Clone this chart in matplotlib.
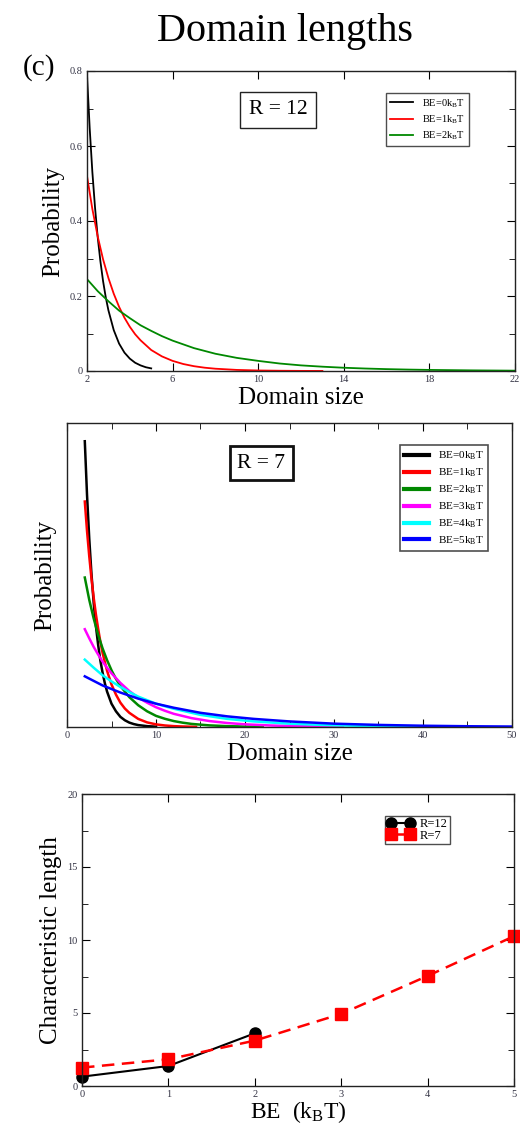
import matplotlib
matplotlib.use("Agg")
import matplotlib.pyplot as plt
from matplotlib.ticker import MultipleLocator, NullLocator

plt.rcParams['font.family'] = ['Liberation Serif', 'DejaVu Serif']
plt.rcParams['mathtext.fontset'] = 'custom'
plt.rcParams['mathtext.rm'] = 'Liberation Serif'
plt.rcParams['mathtext.it'] = 'Liberation Serif:italic'

# ---------------- Data: R = 12 panel ----------------
r12_be0_x = [2, 2.125, 2.25, 2.375, 2.5, 2.625, 2.75, 2.875, 3, 3.25, 3.5, 3.75, 4,
             4.25, 4.5, 4.75, 5]
r12_be0_y = [.79, .648, .531, .436, .357, .293, .240, .197, .162, .109, .073, .049, .033,
             .022, .015, .010, .007]
r12_be1_x = [2, 2.25, 2.5, 2.75, 3, 3.25, 3.5, 3.75, 4, 4.25, 4.5, 5, 5.5, 6, 6.5, 7,
             7.5, 8, 9, 10, 11, 12, 13]
r12_be1_y = [.52, .432, .359, .298, .248, .206, .171, .142, .118, .098, .082, .056, .039,
             .027, .0186, .0128, .0088, .0061, .0029, .0014, .0007, .0003, .00015]
r12_be2_x = [2, 2.5, 3, 3.5, 4, 4.5, 5, 5.5, 6, 7, 8, 9, 10, 11, 12, 13, 14, 15, 16, 17,
             18, 20, 22]
r12_be2_y = [.245, .213, .186, .161, .141, .122, .107, .093, .081, .061, .046, .035, .027,
             .020, .015, .0115, .0087, .0066, .0050, .0038, .0029, .0017, .0009]
r12_labels = ["BE=0k$_\\mathrm{B}$T", "BE=1k$_\\mathrm{B}$T", "BE=2k$_\\mathrm{B}$T"]

# ---------------- Data: R = 7 panel ----------------
r7_be0_x = [2, 2.25, 2.5, 2.75, 3, 3.25, 3.5, 3.75, 4, 4.25, 4.5, 5, 5.5, 6, 6.5, 7,
            7.5, 8, 9, 10]
r7_be0_y = [.564, .458, .372, .302, .245, .199, .162, .131, .107, .0865, .070, .046, .031,
            .020, .0133, .0087, .0058, .0038, .0017, .0007]
r7_be1_x = [2, 2.25, 2.5, 2.75, 3, 3.25, 3.5, 3.75, 4, 4.5, 5, 5.5, 6, 6.5, 7, 8, 9, 10,
            11, 12, 13, 14.5]
r7_be1_y = [.445, .387, .337, .293, .255, .222, .194, .168, .146, .111, .084, .064, .048,
            .0365, .028, .016, .0091, .0052, .0030, .0017, .0010, .0004]
r7_be2_x = [2, 2.5, 3, 3.5, 4, 4.5, 5, 5.5, 6, 7, 8, 9, 10, 11, 12, 13, 14, 16, 18, 20, 22]
r7_be2_y = [.295, .251, .214, .182, .155, .132, .112, .095, .081, .059, .043, .031, .022,
            .0162, .0117, .0085, .0061, .0032, .0017, .0009, .0005]
r7_be3_x = [2, 2.5, 3, 3.5, 4, 4.5, 5, 6, 7, 8, 9, 10, 11, 12, 14, 16, 18, 20, 23, 26,
            29, 31]
r7_be3_y = [.193, .175, .158, .143, .129, .117, .106, .087, .071, .058, .048, .039, .032,
            .026, .0175, .0117, .0079, .0053, .0029, .0016, .0009, .0006]
r7_be4_x = [2, 3, 4, 5, 6, 7, 8, 9, 10, 12, 15, 18, 21, 25, 30, 35, 40, 44]
r7_be4_y = [.133, .117, .102, .090, .079, .069, .060, .053, .046, .036, .024, .016, .011,
            .0065, .0033, .0017, .0009, .0005]
r7_be5_x = [2, 3, 4, 5, 6, 8, 10, 12, 15, 18, 21, 25, 30, 35, 40, 45, 50]
r7_be5_y = [.100, .091, .082, .075, .068, .056, .046, .038, .028, .021, .016, .011,
            .0066, .0041, .0025, .0015, .0009]
r7_labels = ["BE=%dk$_\\mathrm{B}$T" % i for i in range(6)]

# ---------------- Data: characteristic length ----------------
be_r12 = [0, 1, 2]
len_r12 = [0.64, 1.37, 3.61]
be_r7 = [0, 1, 2, 3, 4, 5]
len_r7 = [1.26, 1.83, 3.11, 4.94, 7.54, 10.26]

W, H = 520, 1129
fig = plt.figure(figsize=(W / 100, H / 100), dpi=100)

def ax_px(l, t, r, b):
    return fig.add_axes([l / W, 1 - b / H, (r - l) / W, (b - t) / H])

tick_col = '#333344'

def style(ax):
    ax.tick_params(which='both', direction='in', top=True, right=True,
                   labelsize=7.5, labelcolor=tick_col, pad=3)
    ax.tick_params(which='major', length=6)
    ax.tick_params(which='minor', length=4)
    for s in ax.spines.values():
        s.set_linewidth(1.0)
        s.set_color('#222222')

fig.text(0.548, 0.972, "Domain lengths", ha='center', va='center', fontsize=29)
fig.text(0.075, 0.940, "(c)", ha='center', va='center', fontsize=21)

# ---------- Top panel ----------
ax1 = ax_px(87, 71, 515, 371)
ax1.plot(r12_be0_x, r12_be0_y, color='black', lw=1.3, label=r12_labels[0])
ax1.plot(r12_be1_x, r12_be1_y, color='#ff0000', lw=1.3, label=r12_labels[1])
ax1.plot(r12_be2_x, r12_be2_y, color='#008800', lw=1.3, label=r12_labels[2])
ax1.set_xlim(2, 22)
ax1.set_ylim(0, 0.8)
ax1.set_xticks([2, 6, 10, 14, 18, 22], ['2', '6', '10', '14', '18', '22'])
ax1.set_yticks([0, 0.2, 0.4, 0.6, 0.8], ['0', '0.2', '0.4', '0.6', '0.8'])
ax1.xaxis.set_minor_locator(NullLocator())
ax1.yaxis.set_minor_locator(MultipleLocator(0.1))
style(ax1)
ax1.set_xlabel("Domain size", fontsize=18, labelpad=2)
ax1.set_ylabel("Probability", fontsize=18, labelpad=4)
ax1.text(0.447, 0.87, "R = 12", transform=ax1.transAxes, fontsize=15.5, ha='center',
         va='center', bbox=dict(boxstyle='square,pad=0.4', fc='white', ec='#222222', lw=1.0))
lg1 = ax1.legend(loc='upper left', bbox_to_anchor=(0.699, 0.927), fontsize=7.5, frameon=True,
                 fancybox=False, edgecolor='#222222', handlelength=2.2, handletextpad=0.8,
                 borderpad=0.4, labelspacing=0.35, borderaxespad=0)
lg1.get_frame().set_linewidth(1.0)

# ---------- Middle panel ----------
ax2 = ax_px(67, 423, 512, 727)
cols7 = ['black', '#ff0000', '#008800', '#ff00ff', '#00ffff', '#0000ff']
xs7 = [r7_be0_x, r7_be1_x, r7_be2_x, r7_be3_x, r7_be4_x, r7_be5_x]
ys7 = [r7_be0_y, r7_be1_y, r7_be2_y, r7_be3_y, r7_be4_y, r7_be5_y]
for xv, yv, c, lab in zip(xs7, ys7, cols7, r7_labels):
    ax2.plot(xv, yv, color=c, lw=1.8, label=lab)
ax2.set_xlim(0, 50)
ax2.set_ylim(0, 0.6)
ax2.xaxis.set_major_locator(MultipleLocator(10))
ax2.xaxis.set_minor_locator(MultipleLocator(5))
ax2.set_yticks([])
style(ax2)
ax2.tick_params(axis='y', which='both', left=False, right=False)
ax2.set_xlabel("Domain size", fontsize=18, labelpad=2)
ax2.set_ylabel("Probability", fontsize=18, labelpad=8)
ax2.text(0.437, 0.868, "R = 7", transform=ax2.transAxes, fontsize=15.5, ha='center',
         va='center', bbox=dict(boxstyle='square,pad=0.35', fc='white', ec='#111111', lw=2.0))
lg2 = ax2.legend(loc='upper left', bbox_to_anchor=(0.748, 0.927), fontsize=8, frameon=True,
                 fancybox=False, edgecolor='#222222', handlelength=2.2, handletextpad=0.8,
                 borderpad=0.4, labelspacing=0.4, borderaxespad=0)
lg2.get_frame().set_linewidth(1.2)
for ln in lg2.get_lines():
    ln.set_linewidth(3)

# ---------- Bottom panel ----------
ax3 = ax_px(82, 794, 514, 1086)
ax3.plot(be_r12, len_r12, color='black', lw=1.5, marker='o', ms=8, label='R=12',
         clip_on=False)
ax3.plot(be_r7, len_r7, color='#ff0000', lw=1.8, ls=(0, (5, 3)), marker='s', ms=8,
         label='R=7', clip_on=False)
ax3.set_xlim(0, 5)
ax3.set_ylim(0, 20)
ax3.xaxis.set_major_locator(MultipleLocator(1))
ax3.xaxis.set_minor_locator(NullLocator())
ax3.yaxis.set_major_locator(MultipleLocator(5))
ax3.yaxis.set_minor_locator(MultipleLocator(2.5))
style(ax3)
ax3.set_xlabel("BE  (k$_\\mathrm{B}$T)", fontsize=17, labelpad=0)
ax3.set_ylabel("Characteristic length", fontsize=18, labelpad=4)
lg3 = ax3.legend(loc='upper left', bbox_to_anchor=(0.701, 0.925), fontsize=9, frameon=True,
                 fancybox=False, edgecolor='#222222', handlelength=2.1, handletextpad=0.45,
                 borderpad=0.2, labelspacing=-0.05, borderaxespad=0, markerscale=1.0,
                 numpoints=2)
lg3.get_frame().set_linewidth(1.0)

fig.savefig("out.png", dpi=100)
